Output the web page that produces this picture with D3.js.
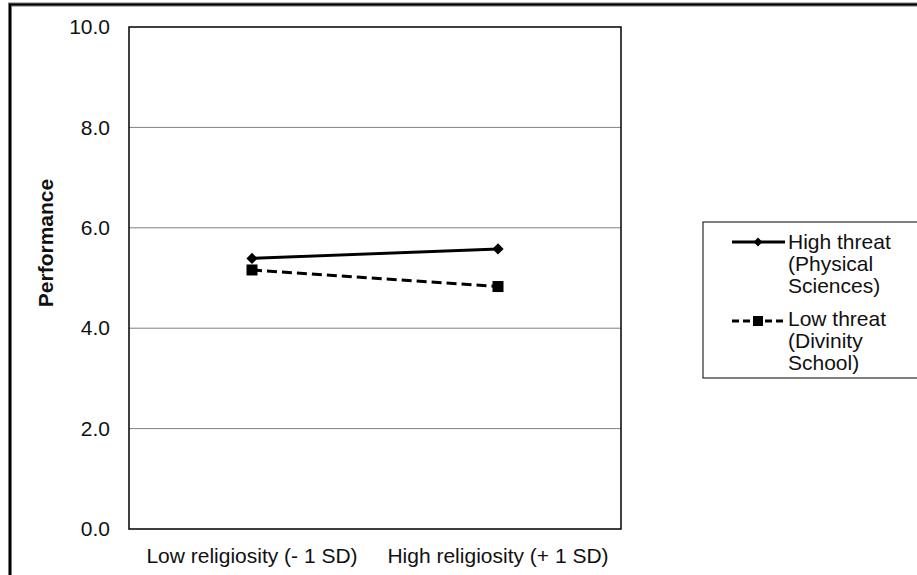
<!DOCTYPE html>
<html>
<head>
<meta charset="utf-8">
<script src="https://cdn.jsdelivr.net/npm/d3@7"></script>
<style>
  body { margin: 0; background: white; }
  text { font-family: "Liberation Sans", Arial, sans-serif; fill: #111; }
</style>
</head>
<body>
<div id="chart"></div>
<script>
var width = 917;
var height = 575;

var categories = ["Low religiosity (- 1 SD)", "High religiosity (+ 1 SD)"];
var highThreat = [5.39, 5.58];
var lowThreat = [5.16, 4.83];
var seriesNames = [["High threat", "(Physical", "Sciences)"], ["Low threat", "(Divinity", "School)"]];
var yTicks = [0, 2, 4, 6, 8, 10];

var plot = { left: 129, top: 27, right: 621, bottom: 529 };

var svg = d3.select("#chart")
            .append("svg")
            .attr("width", width)
            .attr("height", height);

// outer double frame (runs off the right and bottom)
svg.append("rect")
    .attr("x", 10).attr("y", 4.5)
    .attr("width", 940).attr("height", 600)
    .attr("fill", "none")
    .attr("stroke", "#777")
    .attr("stroke-width", 4);
svg.append("rect")
    .attr("x", 10).attr("y", 4.5)
    .attr("width", 940).attr("height", 600)
    .attr("fill", "none")
    .attr("stroke", "#000")
    .attr("stroke-width", 2);

var x = d3.scaleBand()
          .domain(categories)
          .range([plot.left, plot.right]);

var y = d3.scaleLinear()
          .domain([0, 10])
          .range([plot.bottom, plot.top]);

// gridlines
svg.append("g")
    .selectAll("line")
    .data(yTicks.filter(d => d > 0 && d < 10))
    .join("line")
    .attr("x1", plot.left).attr("x2", plot.right)
    .attr("y1", d => y(d)).attr("y2", d => y(d))
    .attr("stroke", "#808080")
    .attr("stroke-width", 1);

// plot box
svg.append("rect")
    .attr("x", plot.left).attr("y", plot.top)
    .attr("width", plot.right - plot.left)
    .attr("height", plot.bottom - plot.top)
    .attr("fill", "none")
    .attr("stroke", "#000")
    .attr("stroke-width", 1.5);

// y tick labels
var yAxis = d3.axisLeft(y)
              .tickValues(yTicks)
              .tickFormat(d3.format(".1f"))
              .tickSize(0)
              .tickPadding(19);
var yg = svg.append("g")
    .attr("transform", "translate(" + plot.left + ",0)")
    .call(yAxis);
yg.select(".domain").remove();
yg.selectAll("text")
    .style("font-size", "21px")
    .style("font-family", "Liberation Sans, Arial, sans-serif")
    .attr("fill", "#111");

// x tick labels
var xAxis = d3.axisBottom(x).tickSize(0).tickPadding(19);
var xg = svg.append("g")
    .attr("transform", "translate(0," + plot.bottom + ")")
    .call(xAxis);
xg.select(".domain").remove();
xg.selectAll("text")
    .style("font-size", "21px")
    .style("font-family", "Liberation Sans, Arial, sans-serif")
    .attr("fill", "#111");

// y label
svg.append("text")
    .attr("transform", "translate(53,243) rotate(-90)")
    .style("text-anchor", "middle")
    .style("font-size", "21px")
    .style("font-weight", "bold")
    .text("Performance");

var line = d3.line()
             .x((d, i) => x(categories[i]) + x.bandwidth() / 2)
             .y(d => y(d));

// high threat
svg.append("path")
    .attr("d", line(highThreat))
    .attr("fill", "none")
    .attr("stroke", "#000")
    .attr("stroke-width", 3);
svg.append("g")
    .selectAll("path")
    .data(highThreat)
    .join("path")
    .attr("transform", (d, i) => "translate(" + (x(categories[i]) + x.bandwidth() / 2) + "," + y(d) + ")")
    .attr("d", d3.symbol(d3.symbolDiamond2, 80))
    .attr("fill", "#000");

// low threat
svg.append("path")
    .attr("d", line(lowThreat))
    .attr("fill", "none")
    .attr("stroke", "#000")
    .attr("stroke-width", 3)
    .attr("stroke-dasharray", "10,5");
svg.append("g")
    .selectAll("rect")
    .data(lowThreat)
    .join("rect")
    .attr("x", (d, i) => x(categories[i]) + x.bandwidth() / 2 - 5.5)
    .attr("y", d => y(d) - 5.5)
    .attr("width", 11)
    .attr("height", 11)
    .attr("fill", "#000");

// legend
svg.append("rect")
    .attr("x", 703).attr("y", 222)
    .attr("width", 230).attr("height", 156)
    .attr("fill", "white")
    .attr("stroke", "#000")
    .attr("stroke-width", 1);

var lg = svg.append("g");
lg.append("line")
    .attr("x1", 732).attr("x2", 785)
    .attr("y1", 242).attr("y2", 242)
    .attr("stroke", "#000").attr("stroke-width", 3);
lg.append("path")
    .attr("transform", "translate(758,242)")
    .attr("d", d3.symbol(d3.symbolDiamond2, 50))
    .attr("fill", "#000");
lg.append("line")
    .attr("x1", 732).attr("x2", 785)
    .attr("y1", 321).attr("y2", 321)
    .attr("stroke", "#000").attr("stroke-width", 3)
    .attr("stroke-dasharray", "7,4");
lg.append("rect")
    .attr("x", 753).attr("y", 316)
    .attr("width", 10).attr("height", 10)
    .attr("fill", "#000");

seriesNames.forEach(function(lines, k) {
    lines.forEach(function(t, j) {
        lg.append("text")
            .attr("x", 788)
            .attr("y", 249 + k * 77 + j * 22)
            .style("font-size", "21px")
            .text(t);
    });
});
</script>
</body>
</html>
